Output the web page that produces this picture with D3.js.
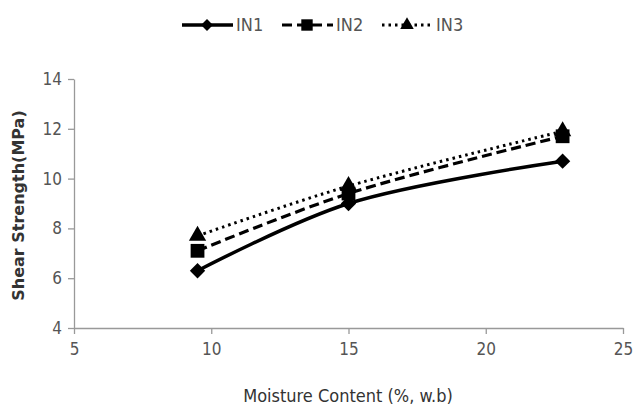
<!DOCTYPE html>
<html lang="en">
<head>
<meta charset="UTF-8">
<title>Shear Strength vs Moisture Content</title>
<script src="https://d3js.org/d3.v7.min.js"></script>
<style>
    body { margin: 0; padding: 0; background: #fff; }
    .tick text { font-family: "Liberation Sans Narrow", "DejaVu Sans Condensed", sans-serif; font-size: 17px; fill: #555; }
    .domain, .tick line { stroke: #999; stroke-width: 1.3px; }
    .legend text { font-family: "Liberation Sans Narrow", "DejaVu Sans Condensed", sans-serif; font-size: 18px; fill: #555; }
</style>
</head>
<body>
<div id="chart"></div>
<script>
    // data
    const moisture = [9.5, 15, 22.8];
    const seriesNames = ["IN1", "IN2", "IN3"];
    const in1 = [6.3, 9.0, 10.7];
    const in2 = [7.1, 9.4, 11.7];
    const in3 = [7.7, 9.7, 11.9];
    const xTicks = [5, 10, 15, 20, 25];
    const yTicks = [4, 6, 8, 10, 12, 14];

    const series = [
        { name: seriesNames[0], values: in1, dash: null, width: 3.5, symbol: d3.symbolDiamond2, size: 150, legendSize: 90 },
        { name: seriesNames[1], values: in2, dash: "10,5", width: 3.2, symbol: d3.symbolSquare, size: 190, legendSize: 130 },
        { name: seriesNames[2], values: in3, dash: "2.5,4", width: 3, symbol: d3.symbolTriangle, size: 130, legendSize: 80 }
    ];

    const width = 634, height = 411;
    const margin = { top: 79, right: 11, bottom: 83, left: 74 };

    const svg = d3.select("#chart").append("svg")
        .attr("width", width)
        .attr("height", height);

    const x = d3.scaleLinear().domain([5, 25]).range([margin.left, width - margin.right]);
    const y = d3.scaleLinear().domain([4, 14]).range([height - margin.bottom, margin.top]);

    // axes
    svg.append("g")
        .attr("transform", `translate(0,${height - margin.bottom})`)
        .call(d3.axisBottom(x).tickValues(xTicks).tickSize(6).tickPadding(9).tickSizeOuter(0));

    svg.append("g")
        .attr("transform", `translate(${margin.left},0)`)
        .call(d3.axisLeft(y).tickValues(yTicks).tickSize(6).tickPadding(6).tickSizeOuter(0));

    // axis titles
    svg.append("text")
        .attr("x", 348)
        .attr("y", 402)
        .attr("text-anchor", "middle")
        .style("font-family", "\"Liberation Sans Narrow\", \"DejaVu Sans Condensed\", sans-serif")
        .style("font-size", "18px")
        .style("fill", "#333")
        .text("Moisture Content (%, w.b)");

    svg.append("text")
        .attr("transform", `translate(24,${(margin.top + height - margin.bottom) / 2 + 2}) rotate(-90)`)
        .attr("text-anchor", "middle")
        .style("font-family", "\"DejaVu Sans\", sans-serif")
        .style("font-weight", "bold")
        .style("font-size", "16px")
        .style("fill", "#333")
        .text("Shear Strength(MPa)");

    // smoothed lines, like the spreadsheet original
    const line = d3.line()
        .x((d, i) => x(moisture[i]))
        .y(d => y(d))
        .curve(d3.curveCatmullRom.alpha(0.5));

    series.forEach(s => {
        svg.append("path")
            .datum(s.values)
            .attr("fill", "none")
            .attr("stroke", "#000")
            .attr("stroke-width", s.width)
            .attr("stroke-dasharray", s.dash)
            .attr("d", line);
    });

    series.forEach(s => {
        svg.selectAll(null)
            .data(s.values)
            .enter()
            .append("path")
            .attr("transform", (d, i) => `translate(${x(moisture[i])},${y(d)})`)
            .attr("d", d3.symbol().type(s.symbol).size(s.size))
            .attr("fill", "#000");
    });

    // legend
    const legendX = [182, 282, 382];
    const legend = svg.append("g").attr("class", "legend");
    series.forEach((s, i) => {
        const g = legend.append("g").attr("transform", `translate(${legendX[i]},25)`);
        g.append("line")
            .attr("x1", 0).attr("x2", 51)
            .attr("stroke", "#000")
            .attr("stroke-width", s.width)
            .attr("stroke-dasharray", s.dash);
        g.append("path")
            .attr("transform", "translate(25,0)")
            .attr("d", d3.symbol().type(s.symbol).size(s.legendSize))
            .attr("fill", "#000");
        g.append("text")
            .attr("x", 54)
            .attr("y", 6)
            .text(s.name);
    });
</script>
</body>
</html>
